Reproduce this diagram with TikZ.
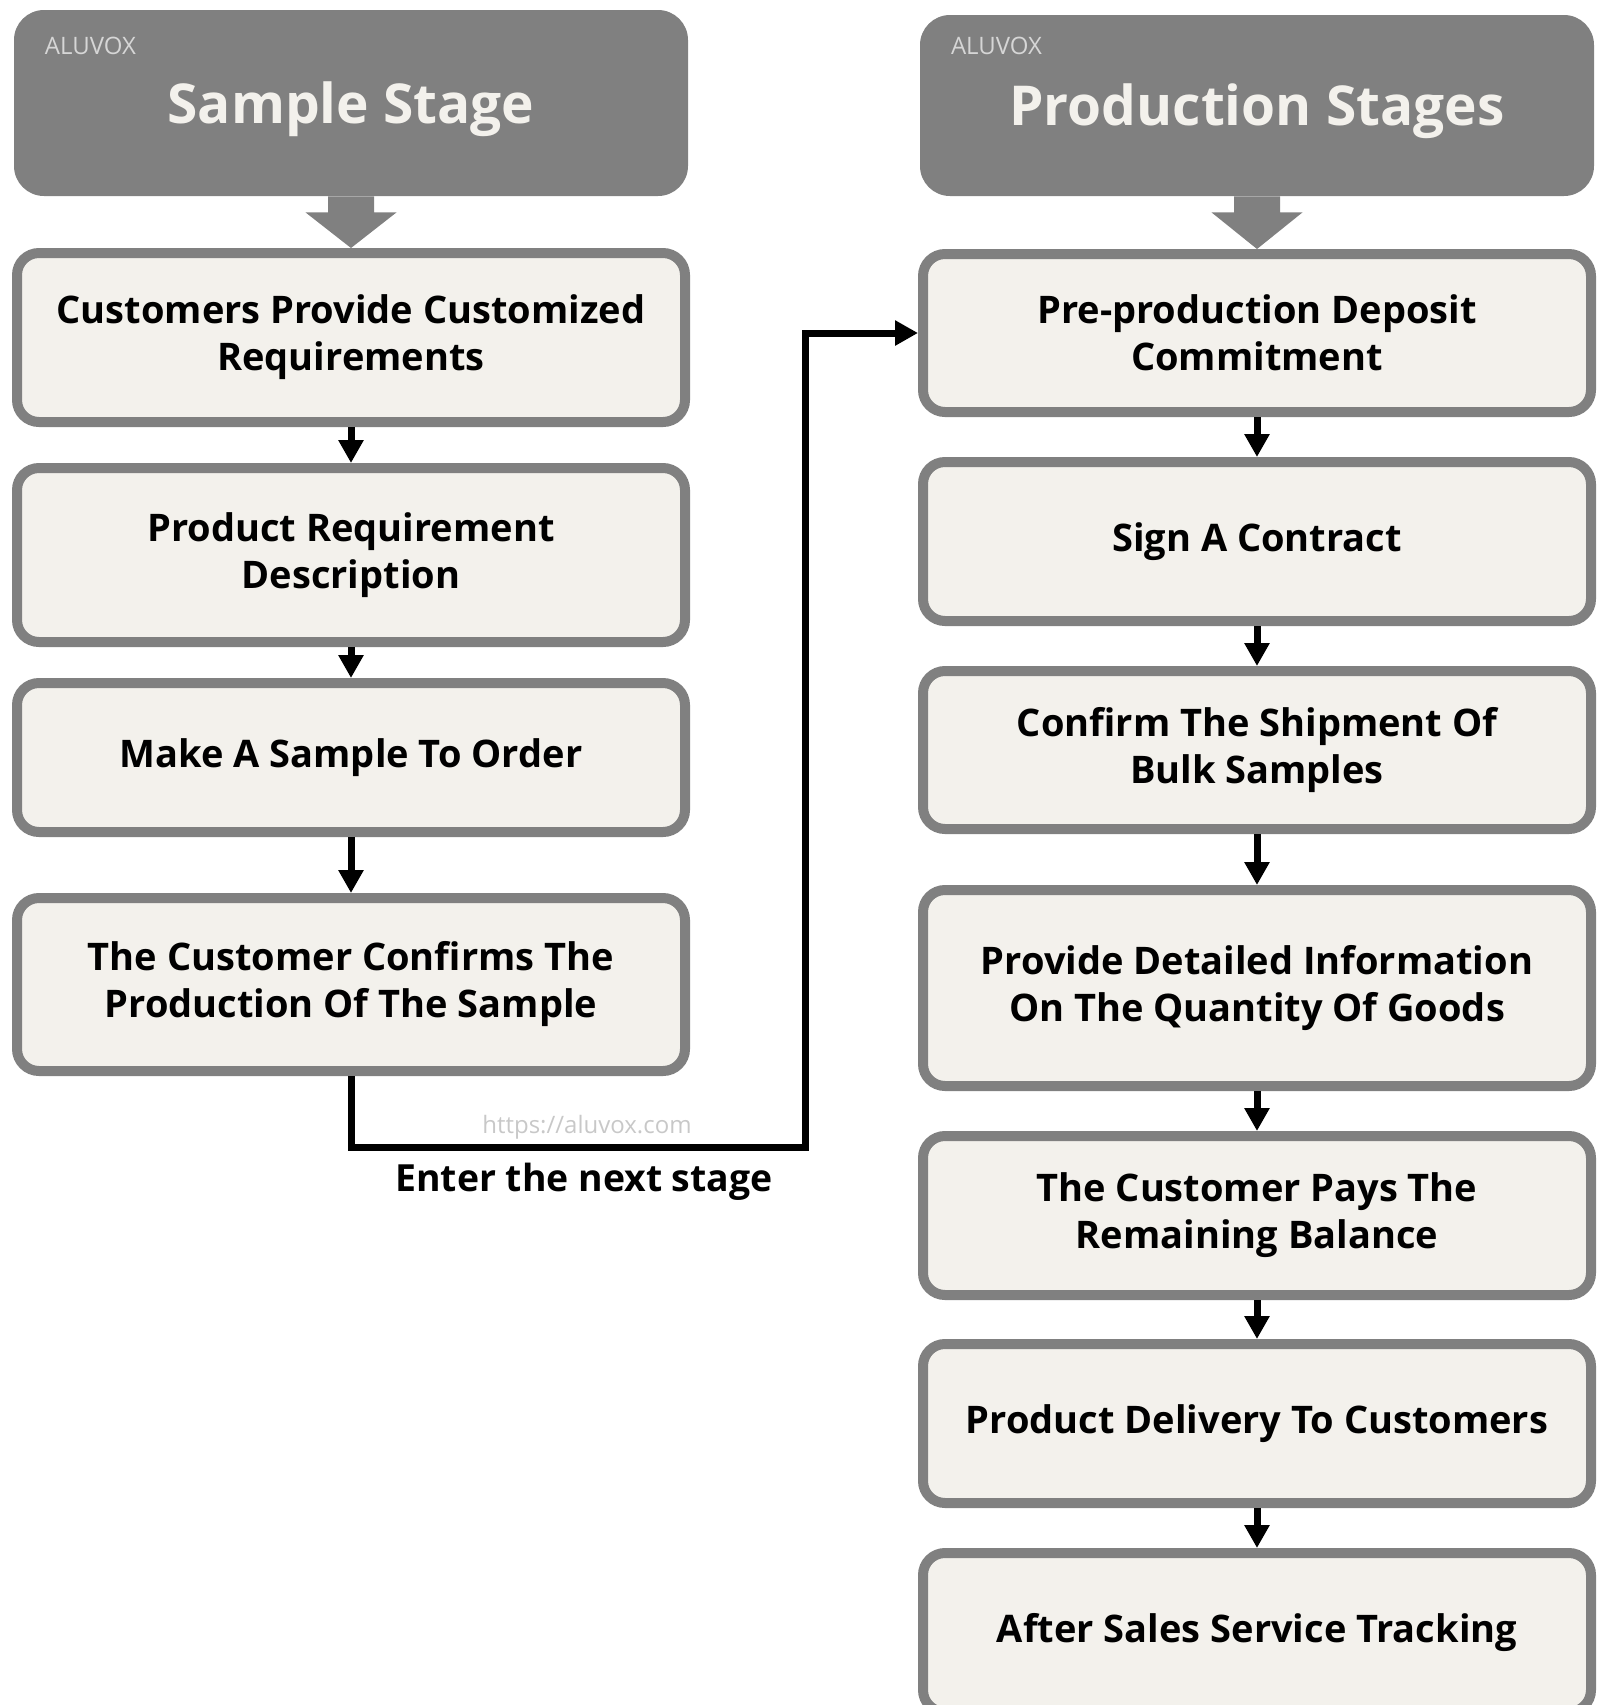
\documentclass[tikz,border=0pt]{standalone}
\usepackage{fontspec}
\setmainfont{Open Sans}
\usetikzlibrary{positioning}
\usetikzlibrary{arrows.meta}
\definecolor{stagegray}{RGB}{128,128,128}
\definecolor{stagefill}{RGB}{243,241,236}
\definecolor{brandgray}{RGB}{214,214,214}
\definecolor{linkgray}{RGB}{200,200,200}

\begin{document}
\begin{tikzpicture}
		[x=0.5pt, y=-0.5pt,
		stepbox/.style={rectangle, rounded corners=11pt, draw=stagegray, line width=5pt, fill=stagefill, minimum width=334pt, inner sep=0pt, align=center, font=\bfseries\fontsize{19}{23.5}\selectfont},
		headbox/.style={rectangle, rounded corners=15pt, fill=stagegray, minimum width=337pt, inner sep=0pt},
		headtitle/.style={anchor=base, text=stagefill, font=\bfseries\fontsize{27.5}{33}\selectfont},
		brand/.style={anchor=west, inner sep=0pt, text=brandgray, font=\fontsize{12}{14}\selectfont},
		flow/.style={-{Triangle[width=12pt, length=11.5pt]}, line width=3.5pt}]
		\useasboundingbox (0,0) rectangle (1603,1705);

		\node[headbox, minimum height=93pt] (samplehead) at (351,103) {};
		\node[headtitle, yshift=-10pt] (sampletitle) at (samplehead.center) {Sample Stage};
		\node[brand] (samplebrand) at ([xshift=15.5pt, yshift=-18pt]samplehead.north west) {ALUVOX};

		\node[stepbox, minimum height=84.5pt] (s1) at (351,337.5) {Customers Provide Customized\\Requirements};
		\node[stepbox, minimum height=87pt, below=18pt of s1] (s2) {Product Requirement\\Description};
		\node[stepbox, minimum height=74.5pt, below=15.5pt of s2] (s3) {Make A Sample To Order};
		\node[stepbox, minimum height=86.5pt, below=28pt of s3] (s4) {The Customer Confirms The\\Production Of The Sample};

		\node[headbox, minimum height=90.5pt] (prodhead) at (1257,105.5) {};
		\node[headtitle, yshift=-10pt] (prodtitle) at (prodhead.center) {Production Stages};
		\node[brand] (prodbrand) at ([xshift=15.5pt, yshift=-15.5pt]prodhead.north west) {ALUVOX};

		\node[stepbox, minimum height=79pt] (p1) at (1257,333) {Pre-production Deposit\\Commitment};
		\node[stepbox, minimum height=79.5pt, below=20pt of p1] (p2) {Sign A Contract};
		\node[stepbox, minimum height=79pt, below=20pt of p2] (p3) {Confirm The Shipment Of\\Bulk Samples};
		\node[stepbox, minimum height=98pt, below=25.5pt of p3] (p4) {Provide Detailed Information\\On The Quantity Of Goods};
		\node[stepbox, minimum height=79.5pt, below=20pt of p4] (p5) {The Customer Pays The\\Remaining Balance};
		\node[stepbox, minimum height=79.5pt, below=19.5pt of p5] (p6) {Product Delivery To Customers};
		\node[stepbox, minimum height=79.5pt, below=20pt of p6] (p7) {After Sales Service Tracking};

		\fill[stagegray] ([xshift=-11.5pt]samplehead.south) -- ([xshift=-11.5pt, yshift=-8pt]samplehead.south) -- ([xshift=-22.75pt, yshift=-8pt]samplehead.south) -- (s1.north) -- ([xshift=22.75pt, yshift=-8pt]samplehead.south) -- ([xshift=11.5pt, yshift=-8pt]samplehead.south) -- ([xshift=11.5pt]samplehead.south) -- cycle;
		\fill[stagegray] ([xshift=-11.5pt]prodhead.south) -- ([xshift=-11.5pt, yshift=-8pt]prodhead.south) -- ([xshift=-22.75pt, yshift=-8pt]prodhead.south) -- (p1.north) -- ([xshift=22.75pt, yshift=-8pt]prodhead.south) -- ([xshift=11.5pt, yshift=-8pt]prodhead.south) -- ([xshift=11.5pt]prodhead.south) -- cycle;

		\draw[flow] (s1) -- (s2);
		\draw[flow] (s2) -- (s3);
		\draw[flow] (s3) -- (s4);
		\draw[flow] (p1) -- (p2);
		\draw[flow] (p2) -- (p3);
		\draw[flow] (p3) -- (p4);
		\draw[flow] (p4) -- (p5);
		\draw[flow] (p5) -- (p6);
		\draw[flow] (p6) -- (p7);

		\coordinate (bend) at (805,1147);
		\draw[flow] (s4) |- (bend) |- (p1);
		\node[text=linkgray, font=\fontsize{12}{14}\selectfont] (weblink) at (587,1127) {https://aluvox.com};
		\node[font=\bfseries\fontsize{18.7}{23}\selectfont] (nextnote) at (584,1182) {Enter the next stage};
	\end{tikzpicture}
\end{document}
